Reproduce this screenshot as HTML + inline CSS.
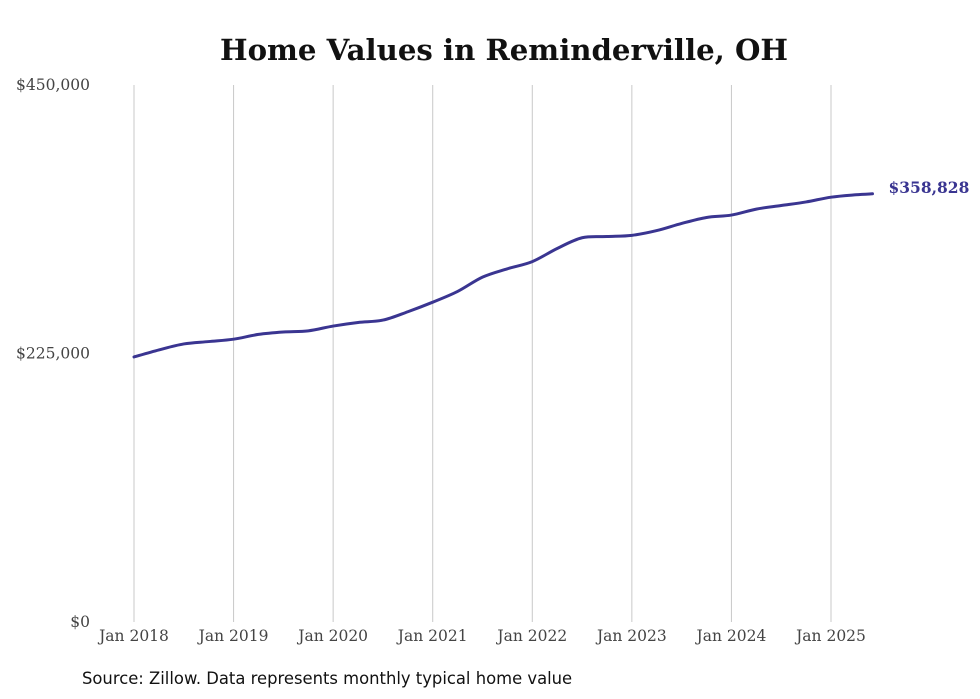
<!DOCTYPE html>
<html><head><meta charset="utf-8">
<style>
html,body{margin:0;padding:0;background:#fff;}
svg{display:block;}
</style></head>
<body>
<svg id="chart" width="980" height="699" viewBox="0 0 980 699">
  <text x="504" y="60" text-anchor="middle" font-family="'DejaVu Serif','Liberation Serif',serif" font-weight="bold" font-size="29.2" fill="#111">Home Values in Reminderville, OH</text>
  <g id="grid"></g>
  <g id="yticks"></g>
  <g id="xticks"></g>
  <g id="series"></g>
  <text x="82" y="684" font-family="'DejaVu Sans','Liberation Sans',sans-serif" font-size="16.4" fill="#111">Source: Zillow. Data represents monthly typical home value</text>
</svg>
<script>
// months since Jan 2018
const months = [0,3,6,9,12,15,18,21,24,27,30,33,36,39,42,45,48,51,54,57,60,63,66,69,72,75,78,81,84,87,89];
const values = [222100,228000,233000,235000,237000,241000,243000,244000,248000,251000,253000,260000,268000,277000,289000,296000,302000,313000,322000,323000,324000,328000,334000,339000,341000,346000,349000,352000,356000,358000,358828];
const yTickValues = [0,225000,450000];
const yTickLabels = ["$0","$225,000","$450,000"];
const xTickMonths = [0,12,24,36,48,60,72,84];
const xTickLabels = ["Jan 2018","Jan 2019","Jan 2020","Jan 2021","Jan 2022","Jan 2023","Jan 2024","Jan 2025"];
const endLabel = "$358,828";

const NS = "http://www.w3.org/2000/svg";
const plotTop = 85, plotBottom = 622, x0 = 134, pxPerMonth = (831 - 134) / 84;
const yMax = 450000;
function xScale(m){ return x0 + m * pxPerMonth; }
function yScale(v){ return plotBottom - v / yMax * (plotBottom - plotTop); }
function mk(tag, attrs, parent){ const e = document.createElementNS(NS, tag); for (const k in attrs) e.setAttribute(k, attrs[k]); parent.appendChild(e); return e; }

const grid = document.getElementById('grid');
const xt = document.getElementById('xticks');
xTickMonths.forEach((m, i) => {
  const l = mk('line', {x1: xScale(m), x2: xScale(m), y1: plotTop, y2: plotBottom, stroke: '#c8c8c8', 'stroke-width': 1}, grid);
  
  
  const t = mk('text', {x: xScale(m), y: 641, 'text-anchor': 'middle', 'font-family': "'DejaVu Serif','Liberation Serif',serif", 'font-size': 15.5, fill: '#444'}, xt);
  t.textContent = xTickLabels[i];
  
  
});
const yt = document.getElementById('yticks');
yTickValues.forEach((v, i) => {
  const t = mk('text', {x: 90, y: yScale(v) + 5, 'text-anchor': 'end', 'font-family': "'DejaVu Serif','Liberation Serif',serif", 'font-size': 15.5, fill: '#444'}, yt);
  t.textContent = yTickLabels[i];
  
  
});

const pts = months.map((m, i) => [xScale(m), yScale(values[i])]);
let d = `M${pts[0][0]},${pts[0][1]}`;
for (let i = 0; i < pts.length - 1; i++) {
  const p0 = pts[i - 1] || pts[i], p1 = pts[i], p2 = pts[i + 1], p3 = pts[i + 2] || p2;
  const c1 = [p1[0] + (p2[0] - p0[0]) / 6, p1[1] + (p2[1] - p0[1]) / 6];
  const c2 = [p2[0] - (p3[0] - p1[0]) / 6, p2[1] - (p3[1] - p1[1]) / 6];
  d += ` C${c1[0]},${c1[1]} ${c2[0]},${c2[1]} ${p2[0]},${p2[1]}`;
}
const series = document.getElementById('series');
const path = mk('path', {d: d, fill: 'none', stroke: '#3a3591', 'stroke-width': 3, 'stroke-linecap': 'round', 'stroke-linejoin': 'round'}, series);


const last = pts[pts.length - 1];
const lbl = mk('text', {x: last[0] + 16, y: last[1] - 1, 'font-family': "'DejaVu Serif','Liberation Serif',serif", 'font-weight': 'bold', 'font-size': 15.5, fill: '#3a3591'}, series);
lbl.textContent = endLabel;


</script>
</body></html>
